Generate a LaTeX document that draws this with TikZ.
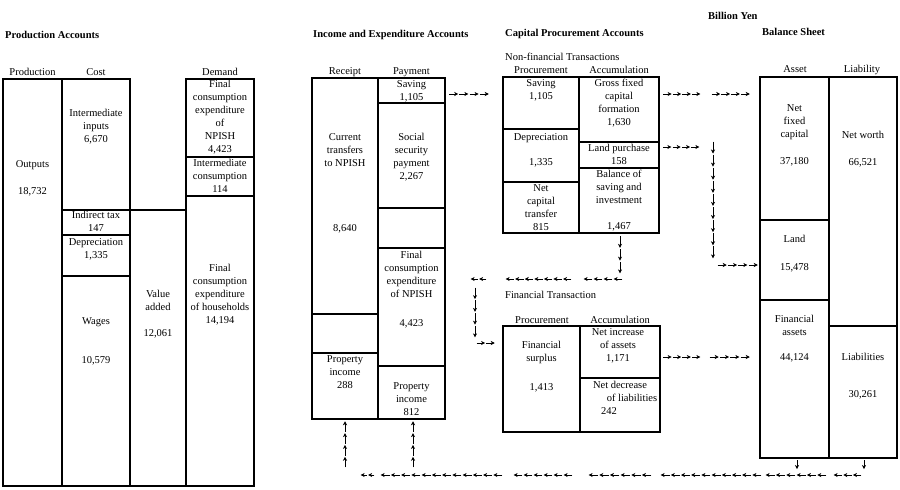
\documentclass[tikz,border=0pt]{standalone}
\usepackage{fontspec}
\setmainfont{Liberation Serif}
\usetikzlibrary{calc,fit,arrows.meta}

% a row of small arrows from one named point to another
\newcommand{\flowchain}[3]{%
  \foreach \k [evaluate=\k as \ka using (\k-1)/#3, evaluate=\k as \kb using \k/#3] in {1,...,#3}{
    \draw[flow] ($(#1)!\ka!(#2)$) -- ($(#1)!\kb!(#2)$);
  }}

\begin{document}
\begin{tikzpicture}[x=1pt,y=-1pt,
  font={\fontsize{10.5}{13}\selectfont},
  cellbox/.style={draw,line width=1.3pt,inner sep=0pt},
  txt/.style={align=center,anchor=north,inner sep=0pt,yshift=3.7pt},
  ttl/.style={anchor=north west,inner sep=0pt,yshift=3.7pt,font={\fontsize{10.5}{13}\selectfont\bfseries}},
  sub/.style={anchor=north west,inner sep=0pt,yshift=3.7pt},
  flow/.style={line width=0.6pt,-{Stealth[length=4pt,width=4pt,inset=1.2pt]},shorten >=0.6pt,shorten <=0.6pt}]
  \fill[white] (0,0) rectangle (900,490);
  \useasboundingbox (0,0) rectangle (900,490);

  % ---- account cells ----
  \foreach \n/\xa/\ya/\xb/\yb in {outputs/3/79/62/486,intinputs/62/79/130/210,indtax/62/210/130/235,
      depr/62/235/130/276,wages/62/276/130/486,valadd/130/210/186/486,fcnpish/186/79/254/157,
      intcons/186/157/254/196,fchh/186/196/254/486,
      curtr/312/78/378/314,recblank/312/314/378/353,propinc-r/312/353/378/419,
      saving-p/378/78/445/103,socsec/378/103/445/208,payblank/378/208/445/248,
      fcnp/378/248/445/366,propinc-p/378/366/445/419,
      cp-saving/503/77/579/129,cp-depr/503/129/579/182,cp-nct/503/182/579/233,
      cp-gfcf/579/77/659/142,cp-land/579/142/659/168,cp-bal/579/168/659/233,
      fin-surplus/503/326/580/432,fin-inc/580/326/660/378,fin-dec/580/378/660/432,
      bs-nfc/760/77/829/220,bs-land/760/220/829/300,bs-fa/760/300/829/458,
      bs-nw/829/77/897/326,bs-liab/829/326/897/458}{
    \node[cellbox,fit={(\xa,\ya) (\xb,\yb)}] (\n) {};
  }

  % ---- titles and column heads ----
  \node[ttl] (t-unit) at (708,16) {Billion Yen};
  \node[ttl] (t-prod) at (5,35) {Production Accounts};
  \node[ttl] (t-inc) at (313,34) {Income and Expenditure Accounts};
  \node[ttl] (t-cap) at (505,33) {Capital Procurement Accounts};
  \node[ttl] (t-bs) at (762,32) {Balance Sheet};
  \node[sub] (t-nonfin) at (505,57) {Non-financial Transactions};
  \node[sub] (t-fin) at (505,295) {Financial Transaction};
  \node[txt] (h-prod) at (32.5,72) {Production};
  \node[txt] (h-cost) at (96,72) {Cost};
  \node[txt] (h-dem) at (220,72) {Demand};
  \node[txt] (h-rec) at (345,71) {Receipt};
  \node[txt] (h-pay) at (411.5,71) {Payment};
  \node[txt] (h-nproc) at (541,70) {Procurement};
  \node[txt] (h-nacc) at (619,70) {Accumulation};
  \node[txt] (h-fproc) at (542,320) {Procurement};
  \node[txt] (h-facc) at (620,320) {Accumulation};
  \node[txt] (h-asset) at (795,69) {Asset};
  \node[txt] (h-liab) at (862,69) {Liability};

  % ---- production accounts ----
  \node[txt] (outputs-t) at (32.5,164) {Outputs\\[14pt]18,732};
  \node[txt] (intinputs-t) at (96,113) {Intermediate\\inputs\\6,670};
  \node[txt] (indtax-t) at (96,215) {Indirect tax\\147};
  \node[txt] (depr-t) at (96,242) {Depreciation\\1,335};
  \node[txt] (wages-t) at (96,321) {Wages\\[26pt]10,579};
  \node[txt] (valadd-t) at (158,294) {Value\\added\\[13pt]12,061};
  \node[txt] (fcnpish-t) at (220,84) {Final\\consumption\\expenditure\\of\\NPISH\\4,423};
  \node[txt] (intcons-t) at (220,163) {Intermediate\\consumption\\114};
  \node[txt] (fchh-t) at (220,268) {Final\\consumption\\expenditure\\of households\\14,194};

  % ---- income and expenditure accounts ----
  \node[txt] (curtr-t) at (345,137) {Current\\transfers\\to NPISH\\[52pt]8,640};
  \node[txt] (propinc-r-t) at (345,359) {Property\\income\\288};
  \node[txt] (saving-p-t) at (411.5,84) {Saving\\1,105};
  \node[txt] (socsec-t) at (411.5,137) {Social\\security\\payment\\2,267};
  \node[txt] (fcnp-t) at (411.5,255) {Final\\consumption\\expenditure\\of NPISH\\[16pt]4,423};
  \node[txt] (propinc-p-t) at (411.5,386) {Property\\income\\812};

  % ---- capital procurement accounts ----
  \node[txt] (cp-saving-t) at (541,83) {Saving\\1,105};
  \node[txt] (cp-depr-t) at (541,137) {Depreciation\\[12pt]1,335};
  \node[txt] (cp-nct-t) at (541,188) {Net\\capital\\transfer\\815};
  \node[txt] (cp-gfcf-t) at (619,83) {Gross fixed\\capital\\formation\\1,630};
  \node[txt] (cp-land-t) at (619,148) {Land purchase\\158};
  \node[txt] (cp-bal-t) at (619,174) {Balance of\\saving and\\investment\\[13pt]1,467};
  \node[txt] (fin-surplus-t) at (541.5,345) {Financial\\surplus\\[16pt]1,413};
  \node[txt] (fin-inc-t) at (618,332) {Net increase\\of assets\\1,171};
  \node[txt] (fin-dec-t) at (620,385) {Net decrease\\\hspace*{24pt}of liabilities\\242\hspace*{22pt}};

  % ---- balance sheet ----
  \node[txt] (bs-nfc-t) at (794.5,108) {Net\\fixed\\capital\\[14pt]37,180};
  \node[txt] (bs-land-t) at (794.5,239) {Land\\[15pt]15,478};
  \node[txt] (bs-fa-t) at (794.5,319) {Financial\\assets\\[12pt]44,124};
  \node[txt] (bs-nw-t) at (863,135) {Net worth\\[14pt]66,521};
  \node[txt] (bs-liab-t) at (863,357) {Liabilities\\[24pt]30,261};

  % ---- flows ----
  % saving into capital account
  \coordinate (sv-a) at ($(saving-p.east |- 0,94)+(3,0)$);
  \coordinate (sv-b) at ($(cp-saving.west |- 0,94)+(-13,0)$);
  \flowchain{sv-a}{sv-b}{4}
  % gross fixed capital formation to net fixed capital
  \coordinate (gf-a) at ($(cp-gfcf.east |- 0,94)+(3,0)$);
  \coordinate (gf-b) at (701,94);
  \coordinate (gf-c) at (711,94);
  \coordinate (gf-d) at ($(bs-nfc.west |- 0,94)+(-9,0)$);
  \flowchain{gf-a}{gf-b}{4}
  \flowchain{gf-c}{gf-d}{4}
  % land purchase to land
  \coordinate (ld-a) at ($(cp-land.east |- 0,147)+(3,0)$);
  \coordinate (ld-b) at (700,147);
  \coordinate (ld-c) at (713,141);
  \coordinate (ld-d) at (713,259);
  \coordinate (ld-e) at (717,265);
  \coordinate (ld-f) at ($(bs-land.west |- 0,265)+(-1,0)$);
  \flowchain{ld-a}{ld-b}{4}
  \flowchain{ld-c}{ld-d}{9}
  \flowchain{ld-e}{ld-f}{4}
  % balance of saving and investment to financial surplus
  \coordinate (bl-a) at ($(cp-bal.south)+(1,2)$);
  \coordinate (bl-b) at (620,274);
  \flowchain{bl-a}{bl-b}{3}
  \foreach \xa/\xb/\m in {623/583/4,572/505/7,487/470/2}{
    \coordinate (bl-r1) at (\xa,279);
    \coordinate (bl-r2) at (\xb,279);
    \flowchain{bl-r1}{bl-r2}{\m}
  }
  \coordinate (bl-c) at (475,287);
  \coordinate (bl-d) at (475,338);
  \flowchain{bl-c}{bl-d}{4}
  \coordinate (bl-e) at (476,343);
  \coordinate (bl-f) at ($(fin-surplus.west |- 0,343)+(-7,0)$);
  \flowchain{bl-e}{bl-f}{2}
  % net increase of assets to financial assets
  \coordinate (fa-a) at ($(fin-inc.east |- 0,357)+(2,0)$);
  \coordinate (fa-b) at (701,357);
  \coordinate (fa-c) at (709,357);
  \coordinate (fa-d) at ($(bs-fa.west |- 0,357)+(-9,0)$);
  \flowchain{fa-a}{fa-b}{4}
  \flowchain{fa-c}{fa-d}{4}
  % balance sheet back to property income
  \coordinate (bk-a) at ($(bs-fa.south)+(2.5,1)$);
  \coordinate (bk-b) at ($(bs-fa.south)+(2.5,11)$);
  \flowchain{bk-a}{bk-b}{1}
  \coordinate (bk-c) at ($(bs-liab.south)+(1,1)$);
  \coordinate (bk-d) at ($(bs-liab.south)+(1,11)$);
  \flowchain{bk-c}{bk-d}{1}
  \foreach \xa/\xb/\m in {862/833/3,827/765/6,762/660/10,652/588/6,573/513/6,503/380/12,375/360/2}{
    \coordinate (bk-r1) at (\xa,475);
    \coordinate (bk-r2) at (\xb,475);
    \flowchain{bk-r1}{bk-r2}{\m}
  }
  \coordinate (up-a) at (345,468);
  \coordinate (up-b) at ($(propinc-r.south)+(0,1)$);
  \flowchain{up-a}{up-b}{4}
  \coordinate (up-c) at (413,468);
  \coordinate (up-d) at ($(propinc-p.south)+(1.5,1)$);
  \flowchain{up-c}{up-d}{4}
\end{tikzpicture}
\end{document}
